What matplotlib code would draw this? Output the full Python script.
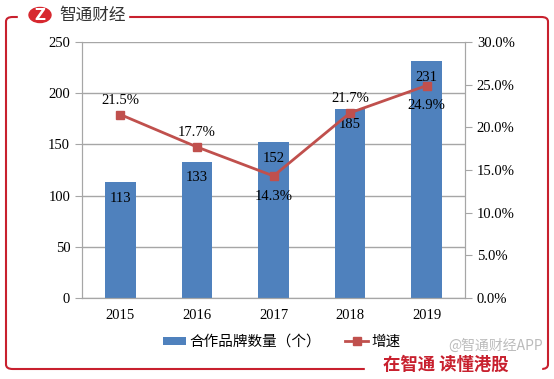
import matplotlib.pyplot as plt
from matplotlib.patches import FancyBboxPatch, Circle
from matplotlib.ticker import FuncFormatter

plt.rcParams['font.family'] = ['Liberation Serif', 'Noto Sans CJK SC']

years = ['2015', '2016', '2017', '2018', '2019']
brands = [113, 133, 152, 185, 231]
growth = [21.5, 17.7, 14.3, 21.7, 24.9]
growth_above = [True, True, False, True, False]

blue = '#4F81BD'
red = '#C0504D'
grid = '#A6A6A6'

fig = plt.figure(figsize=(5.54, 3.79), dpi=100)
ax = fig.add_axes([82 / 554, 1 - 298 / 379, (465 - 82) / 554, (298 - 42) / 379])
ax2 = ax.twinx()

x = range(len(years))
ax.bar(x, brands, width=0.4, color=blue, zorder=2, label='合作品牌数量（个）')
for i, v in enumerate(brands):
    ax.text(i, v - 9, str(v), ha='center', va='top', fontsize=10.5, zorder=5)

ax2.plot(x, growth, color=red, lw=2, marker='s', ms=6, label='增速', zorder=3)
for i, v in enumerate(growth):
    if growth_above[i]:
        ax2.text(i, v + 0.9, f'{v}%', ha='center', va='bottom', fontsize=10.5)
    else:
        ax2.text(i, v - 1.6, f'{v}%', ha='center', va='top', fontsize=10.5)

ax.set_xlim(-0.5, 4.5)
ax.set_ylim(0, 250)
ax.set_yticks(range(0, 251, 50))
ax2.set_ylim(0, 30)
ax2.set_yticks(range(0, 31, 5))
ax2.yaxis.set_major_formatter(FuncFormatter(lambda v, p: f'{v:.1f}%'))
ax.set_xticks(list(x))
ax.set_xticklabels(years)

ax.yaxis.grid(True, color=grid, lw=1, zorder=0)
ax.set_axisbelow(True)
for a in (ax, ax2):
    a.spines['top'].set_visible(False)
    for s in ('left', 'right', 'bottom'):
        a.spines[s].set_color(grid)
    a.tick_params(colors=grid, labelcolor='black', labelsize=10.5, length=5)
ax.tick_params(axis='x', length=0, pad=8)

h1, l1 = ax.get_legend_handles_labels()
h2, l2 = ax2.get_legend_handles_labels()
leg = fig.legend(h1 + h2, l1 + l2, loc='center', bbox_to_anchor=(282 / 554, 1 - 342 / 379),
                 ncol=2, frameon=False, handlelength=1.6, handleheight=0.45,
                 handletextpad=0.25, columnspacing=1.6,
                 prop={'family': ['Noto Sans CJK SC'], 'size': 10.5})

# red frame and branding
frame = FancyBboxPatch((6 / 554, 1 - 369 / 379), 542 / 554, (369 - 17) / 379,
                       boxstyle='round,pad=0,rounding_size=0.012', transform=fig.transFigure,
                       fill=False, ec='#C8202E', lw=1.5, zorder=0)
fig.patches.append(frame)
fig.patches.append(plt.Rectangle((18 / 554, 1 - 28 / 379), 110 / 554, 24 / 379,
                                 transform=fig.transFigure, color='white', zorder=1))
fig.patches.append(Circle((40 / 554, 1 - 15 / 379), 11 / 554, transform=fig.transFigure,
                          color='#D7282F', zorder=2))
fig.text(40 / 554, 1 - 15 / 379, 'Z', color='white', fontsize=11, fontweight='bold',
         ha='center', va='center', family=['DejaVu Sans'], zorder=3)
fig.text(59 / 554, 1 - 15 / 379, '智通财经', color='#333333', fontsize=12,
         ha='left', va='center', family=['Noto Sans CJK SC'], zorder=3)
fig.patches.append(plt.Rectangle((365 / 554, 0), 176 / 554, 17 / 379,
                                 transform=fig.transFigure, color='white', zorder=1))
fig.text(383 / 554, 1 - 365 / 379, '在智通 读懂港股', color='#C8202E', fontsize=12.5,
         fontweight='bold', ha='left', va='center', family=['Noto Sans CJK SC'], zorder=3)
fig.text(496 / 554, 1 - 346 / 379, '@智通财经APP', color='#BBBBBB', fontsize=10,
         ha='center', va='center', family=['Noto Sans CJK SC'], zorder=3)

fig.savefig('out.png', dpi=100)
